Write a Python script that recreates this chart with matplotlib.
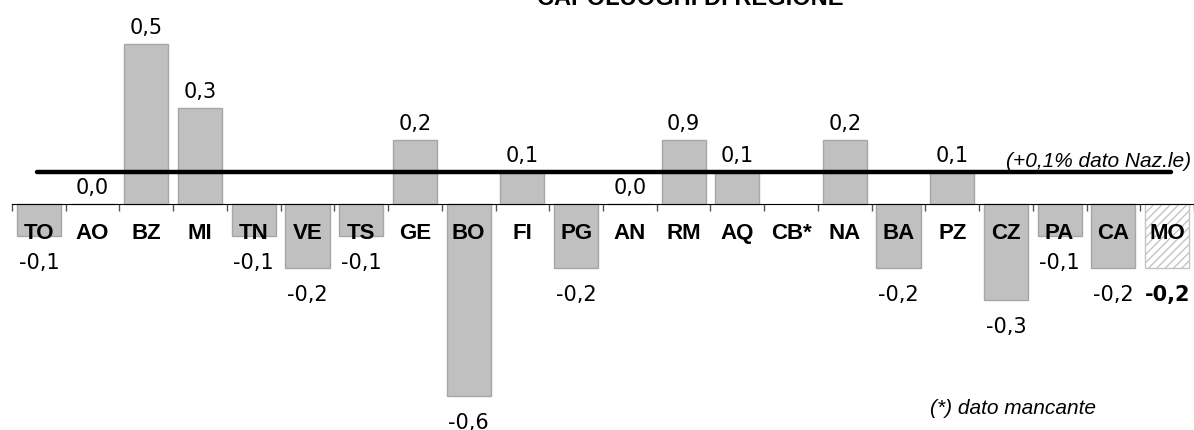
import matplotlib.pyplot as plt
import numpy as np

# capoluoghi e variazioni (altezza barre) + etichette mostrate
citta = ['TO', 'AO', 'BZ', 'MI', 'TN', 'VE', 'TS', 'GE', 'BO', 'FI', 'PG',
         'AN', 'RM', 'AQ', 'CB*', 'NA', 'BA', 'PZ', 'CZ', 'PA', 'CA', 'MO']
valori = [-0.1, 0.0, 0.5, 0.3, -0.1, -0.2, -0.1, 0.2, -0.6, 0.1, -0.2,
          0.0, 0.2, 0.1, np.nan, 0.2, -0.2, 0.1, -0.3, -0.1, -0.2, -0.2]
etichette = ['-0,1', '0,0', '0,5', '0,3', '-0,1', '-0,2', '-0,1', '0,2', '-0,6', '0,1', '-0,2',
             '0,0', '0,9', '0,1', '', '0,2', '-0,2', '0,1', '-0,3', '-0,1', '-0,2', '-0,2']
naz = 0.1

fig = plt.figure(figsize=(11.94, 4.31), dpi=100)
ax = fig.add_axes([12/1194, 0, 1 - 12/1194, 1])
ax.set_xlim(-0.5, len(citta) - 0.5)
ax.set_ylim(-0.706, 0.641)

for i, v in enumerate(valori):
    if np.isnan(v):
        continue
    if citta[i] == 'MO':
        ax.bar(i, v, width=0.82, color='white', edgecolor='#c4c4c4', hatch='////', linewidth=1, zorder=2)
    else:
        ax.bar(i, v, width=0.82, color='#c0c0c0', edgecolor='#a6a6a6', linewidth=1, zorder=2)
    lab = etichette[i]
    if v >= 0:
        ax.annotate(lab, (i, v), xytext=(0, 17), textcoords='offset pixels',
                    ha='center', va='center', fontsize=15, family='DejaVu Sans', zorder=5)
    else:
        ax.annotate(lab, (i, v), xytext=(0, -26), textcoords='offset pixels',
                    ha='center', va='center', fontsize=15, family='DejaVu Sans',
                    fontweight='bold' if citta[i] == 'MO' else 'normal', zorder=5)

# nomi dei capoluoghi
for i, c in enumerate(citta):
    ax.annotate(c, (i, 0), xytext=(0, -28), textcoords='offset pixels', ha='center', va='center',
                fontsize=16, fontweight='bold', family='Liberation Sans', zorder=6)

# linea dato nazionale
ax.axhline(naz, xmin=25/1182, xmax=1159/1182, color='black', lw=3.2, solid_capstyle='round', zorder=4)
ax.text(len(citta) - 0.55, naz + 0.035, '(+0,1% dato Naz.le)', ha='right', va='center',
        fontsize=15, style='italic', family='Liberation Sans', zorder=6)

ax.set_xticks(np.arange(-0.5, len(citta), 1))
ax.set_xticklabels([])
ax.tick_params(axis='x', direction='out', length=5, width=1, color='#555555')
ax.set_yticks([])
for s in ax.spines.values():
    s.set_visible(False)
ax.spines['bottom'].set_position(('data', 0))
ax.spines['bottom'].set_visible(True)
ax.spines['bottom'].set_color('black')
ax.spines['bottom'].set_zorder(3)

ax.text(0.847, 0.053, '(*) dato mancante', transform=ax.transAxes, ha='center', va='center',
        fontsize=15, style='italic', family='Liberation Sans')

fig.text(690/1194, 1 - 5/431, 'CAPOLUOGHI DI REGIONE', ha='center', va='baseline',
         fontsize=17, fontweight='bold', family='Liberation Sans')

fig.savefig('out.png', dpi=100)
